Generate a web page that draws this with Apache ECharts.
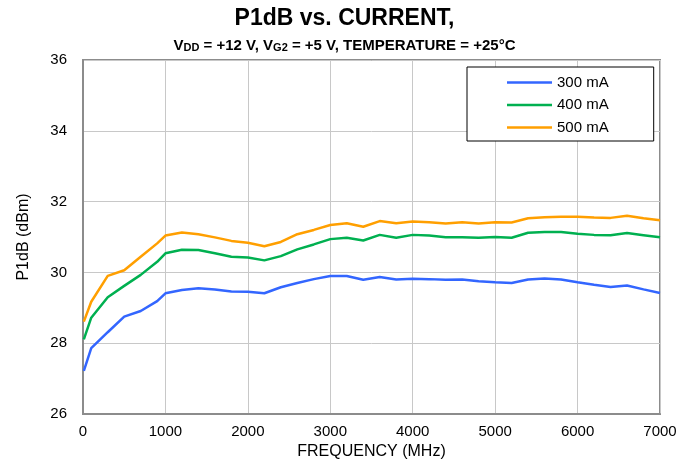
<!DOCTYPE html>
<html><head><meta charset="utf-8">
<script src="https://cdn.jsdelivr.net/npm/echarts@6/dist/echarts.min.js"></script>
<style>html,body{margin:0;padding:0;background:#fff}#c{width:689px;height:471px}</style>
</head><body><div id="c"></div>
<script>
const freq = [10,100,300,500,700,900,1000,1200,1400,1600,1800,2000,2200,2400,2600,2800,3000,3200,3400,3600,3800,4000,4200,4400,4600,4800,5000,5200,5400,5600,5800,6000,6200,6400,6600,6800,7000];
const s300 = [27.22,27.86,28.31,28.75,28.91,29.19,29.41,29.50,29.55,29.52,29.46,29.45,29.41,29.58,29.70,29.81,29.90,29.90,29.79,29.87,29.80,29.82,29.81,29.79,29.80,29.75,29.72,29.70,29.80,29.83,29.80,29.72,29.65,29.59,29.63,29.52,29.42];
const s400 = [28.11,28.72,29.30,29.62,29.93,30.30,30.54,30.64,30.63,30.54,30.44,30.42,30.34,30.46,30.65,30.79,30.94,30.98,30.90,31.06,30.98,31.06,31.04,30.99,30.99,30.98,31.00,30.98,31.12,31.14,31.14,31.09,31.06,31.05,31.11,31.05,30.99];
const s500 = [28.61,29.17,29.90,30.06,30.44,30.82,31.04,31.13,31.08,30.99,30.89,30.84,30.74,30.86,31.08,31.20,31.34,31.39,31.29,31.45,31.39,31.44,31.42,31.38,31.42,31.38,31.42,31.41,31.53,31.56,31.57,31.57,31.55,31.54,31.60,31.53,31.47];
const seriesNames = ['300 mA','400 mA','500 mA'];
const seriesColors = ['#3366ff','#00b050','#ff9f00'];
const xTicks = {min:0,max:7000,interval:1000};
const yTicks = {min:26,max:36,interval:2};

const FONT = '"Liberation Sans", Arial, sans-serif';
const chart = echarts.init(document.getElementById('c'));
const data = [s300,s400,s500];
chart.setOption({
  animation:false,
  backgroundColor:'#fff',
  title:[
    {text:'P1dB vs. CURRENT,', left:'center', top:2,
     textStyle:{fontFamily:FONT,fontWeight:'bold',fontSize:23,color:'#000'}},
    {text:'{n|V}{s|DD}{n| = +12 V, V}{s|G2}{n| = +5 V, TEMPERATURE = +25°C}', left:'center', top:29,
     textStyle:{rich:{
       n:{fontFamily:FONT,fontWeight:'bold',fontSize:15,color:'#000',lineHeight:19,verticalAlign:'bottom'},
       s:{fontFamily:FONT,fontWeight:'bold',fontSize:11,color:'#000',lineHeight:19,verticalAlign:'bottom',padding:[4,0,0,0]}
     }}}
  ],
  grid:{left:83,right:29,top:60,bottom:57,show:true,borderColor:'#8c8c8c',borderWidth:2},
  legend:{
    data:seriesNames, orient:'vertical', left:467, top:67,
    backgroundColor:'#fff', borderColor:'#000', borderWidth:1, borderRadius:0,
    padding:[8,45,6,40], itemWidth:45, itemHeight:14, itemGap:7.5,
    icon:'path://M0,6 L45,6 L45,8.5 L0,8.5 Z',
    textStyle:{fontFamily:FONT,fontSize:15,color:'#000',padding:[0,0,0,0]}
  },
  xAxis:{type:'value',min:xTicks.min,max:xTicks.max,interval:xTicks.interval,
    name:'FREQUENCY (MHz)',nameLocation:'middle',nameGap:30,
    nameTextStyle:{fontFamily:FONT,fontSize:16,color:'#000'},
    axisLine:{show:true,lineStyle:{color:'#8c8c8c',width:2}},axisTick:{show:false},
    axisLabel:{fontFamily:FONT,fontSize:15,color:'#000',margin:10,formatter:v=>String(v)},
    splitLine:{show:true,lineStyle:{color:'#c8c8c8',width:1}}},
  yAxis:{type:'value',min:yTicks.min,max:yTicks.max,interval:yTicks.interval,
    name:'P1dB (dBm)',nameLocation:'middle',nameGap:51,
    nameTextStyle:{fontFamily:FONT,fontSize:16,color:'#000'},
    axisLine:{show:true,lineStyle:{color:'#8c8c8c',width:2}},axisTick:{show:false},
    axisLabel:{fontFamily:FONT,fontSize:15,color:'#000',margin:16},
    splitLine:{show:true,lineStyle:{color:'#c8c8c8',width:1}}},
  series: seriesNames.map((n,i)=>({
    name:n,type:'line',showSymbol:false,symbol:'none',
    data:freq.map((f,j)=>[f,data[i][j]]),
    lineStyle:{color:seriesColors[i],width:2.5},itemStyle:{color:seriesColors[i]}
  }))
});
</script></body></html>
